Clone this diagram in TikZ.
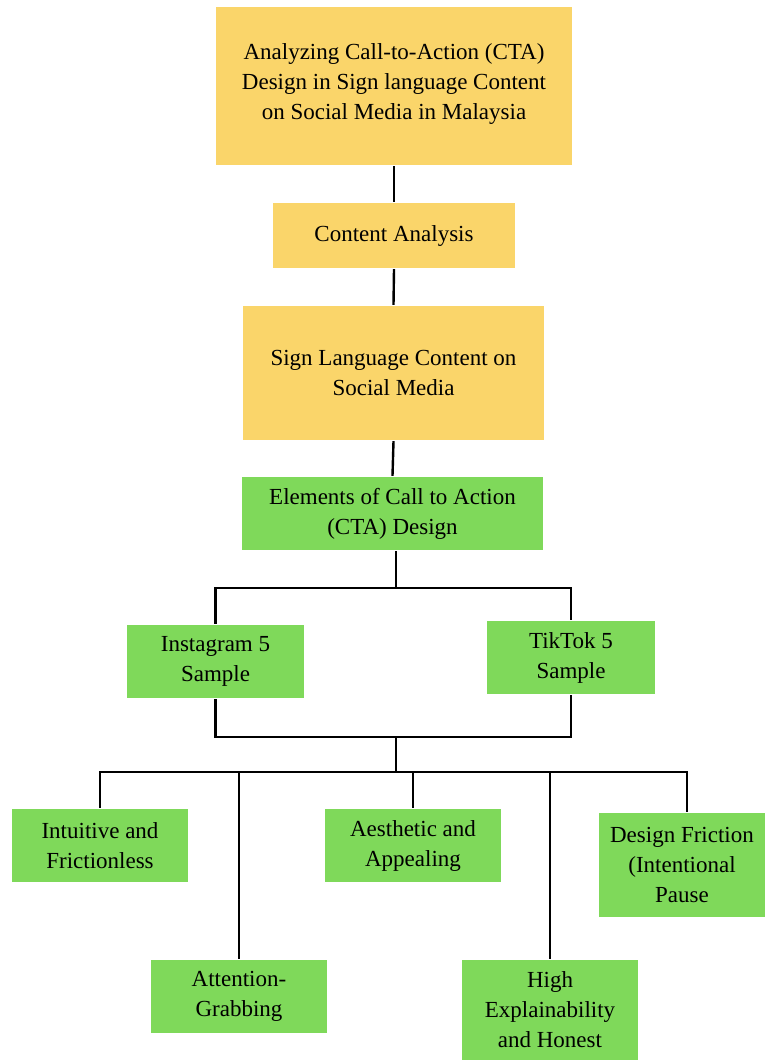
\documentclass[tikz,border=0pt]{standalone}
\usepackage{fontspec}
\setmainfont{Liberation Serif}
\usepackage{xcolor}
\usepackage{tikz}
\usetikzlibrary{calc}
\definecolor{ctayellow}{RGB}{250,213,106}
\definecolor{ctagreen}{RGB}{127,217,90}
\begin{document}
\begin{tikzpicture}[x=1pt,y=-1pt,line width=2.4pt,
		box/.style={fill=#1,draw=none,align=center,inner sep=0pt,font=\fontsize{23}{30}\selectfont},
		box/.default=ctagreen]
		\useasboundingbox (0,0) rectangle (765,1061);
		\node[box=ctayellow,minimum width=356pt,minimum height=158pt] (title) at (394,86) {};
		\node[align=center,font=\fontsize{23}{30}\selectfont] at (title.center) [yshift=2pt] {Analyzing Call-to-Action (CTA)\\Design in Sign language Content\\on Social Media in Malaysia};
		\node[box=ctayellow,minimum width=242pt,minimum height=65pt] (content) at (394,235.5) {Content Analysis};
		\node[box=ctayellow,minimum width=301pt,minimum height=134pt] (signlang) at (393.5,373) {Sign Language Content on\\Social Media};
		\node[box,minimum width=301pt,minimum height=73pt] (elements) at (392.5,513.5) {Elements of Call to Action\\(CTA) Design};
		\node[box,minimum width=177pt,minimum height=73pt] (instagram) at (215.5,661.5) {Instagram 5\\Sample};
		\node[box,minimum width=168pt,minimum height=73pt] (tiktok) at (571,657.5) {TikTok 5\\Sample};
		\node[box,minimum width=176pt,minimum height=73pt] (intuitive) at (100,845.5) {Intuitive and\\Frictionless};
		\node[box,minimum width=176pt,minimum height=73pt] (aesthetic) at (413,845.5) {Aesthetic and\\Appealing};
		\node[box,minimum width=166pt,minimum height=104pt] (friction) at (682,865) {Design Friction\\(Intentional\\Pause};
		\node[box,minimum width=176pt,minimum height=73pt] (attention) at (239,996.5) {Attention-\\Grabbing};
		\node[box,minimum width=176pt,minimum height=100pt] (honest) at (550,1010) {High\\Explainability\\and Honest};
		% upper chain
		\draw (title.south) -- (content.north);
		\draw (content.south) -- (signlang.north);
		\draw (signlang.south) -- (elements.north);
		% split to platforms and merge back
		\coordinate (split) at (396,588);
		\coordinate (merge) at (396,737);
		\coordinate (spread) at (396,772);
		\draw (elements.south -| split) -- (split);
		\draw (instagram.north) |- (split) -| (tiktok.north);
		\draw (instagram.south) |- (merge) -| (tiktok.south);
		\draw (merge) -- (spread);
		\draw (intuitive.north) |- (spread) -| ([xshift=5pt]friction.north);
		\draw (attention.north) -- (attention.north |- spread);
		\draw (aesthetic.north) -- (aesthetic.north |- spread);
		\draw (honest.north) -- (honest.north |- spread);
	\end{tikzpicture}
\end{document}
